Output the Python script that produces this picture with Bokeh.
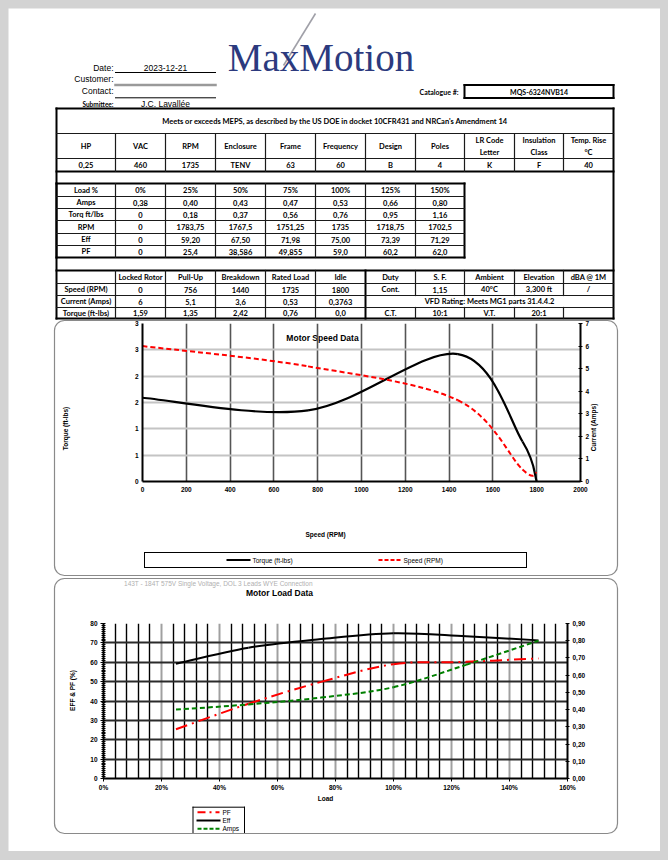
import math
from bokeh.plotting import figure
from bokeh.models import Range1d, LinearAxis, FixedTicker
from bokeh.embed import file_html
from bokeh.resources import INLINE
from bokeh.core.properties import value

# ---------------------------------------------------------------- data
date_value = "2023-12-21"
submittee = "J.C. Lavallée"
catalogue = "MQS-6324NVB14"
meps_note = "Meets or exceeds MEPS, as described by the US DOE in docket 10CFR431 and NRCan's Amendment 14"

spec_headers = [["HP"], ["VAC"], ["RPM"], ["Enclosure"], ["Frame"], ["Frequency"], ["Design"],
                ["Poles"], ["LR Code", "Letter"], ["Insulation", "Class"], ["Temp. Rise", "°C"]]
spec_values = ["0,25", "460", "1735", "TENV", "63", "60", "B", "4", "K", "F", "40"]

load_header = ["Load %", "0%", "25%", "50%", "75%", "100%", "125%", "150%"]
load_rows = [
    ["Amps", "0,38", "0,40", "0,43", "0,47", "0,53", "0,66", "0,80"],
    ["Torq ft/lbs", "0", "0,18", "0,37", "0,56", "0,76", "0,95", "1,16"],
    ["RPM", "0", "1783,75", "1767,5", "1751,25", "1735", "1718,75", "1702,5"],
    ["Eff", "0", "59,20", "67,50", "71,98", "75,00", "73,39", "71,29"],
    ["PF", "0", "25,4", "38,586", "49,855", "59,0", "60,2", "62,0"],
]
perf_header = ["", "Locked Rotor", "Pull-Up", "Breakdown", "Rated Load", "Idle"]
perf_rows = [
    ["Speed (RPM)", "0", "756", "1440", "1735", "1800"],
    ["Current (Amps)", "6", "5,1", "3,6", "0,53", "0,3763"],
    ["Torque (ft-lbs)", "1,59", "1,35", "2,42", "0,76", "0,0"],
]
site_header = ["Duty", "S. F.", "Ambient", "Elevation", "dBA @ 1M"]
site_row1 = ["Cont.", "1,15", "40°C", "3,300 ft", "/"]
vfd_note = "VFD Rating: Meets MG1 parts 31.4.4.2"
site_row3 = ["C.T.", "10:1", "V.T.", "20:1", ""]

# Motor speed data chart
speed_rpm = [0, 756, 1440, 1735, 1800]
torque_ftlb = [1.59, 1.35, 2.42, 0.76, 0.0]
current_amps = [6.0, 5.1, 3.6, 0.53, 0.3763]
speed_ticks = [0, 200, 400, 600, 800, 1000, 1200, 1400, 1600, 1800, 2000]
torque_ticks = [0, 0.5, 1, 1.5, 2, 2.5, 3]
torque_tick_labels = ["0", "1", "1", "2", "2", "3", "3"]
current_ticks = [0, 1, 2, 3, 4, 5, 6, 7]
speed_legend = ["Torque (ft-lbs)", "Speed (RPM)"]

# Motor load data chart
load_frac = [0.25, 0.50, 0.75, 1.00, 1.25, 1.50]
eff_pct = [59.20, 67.50, 71.98, 75.00, 73.39, 71.29]
pf_pct = [25.4, 38.586, 49.855, 59.0, 60.2, 62.0]
amps_load = [0.40, 0.43, 0.47, 0.53, 0.66, 0.80]
load_ticks = [0, 0.2, 0.4, 0.6, 0.8, 1.0, 1.2, 1.4, 1.6]
load_tick_labels = ["0%", "20%", "40%", "60%", "80%", "100%", "120%", "140%", "160%"]
pct_ticks = [0, 10, 20, 30, 40, 50, 60, 70, 80]
amps_ticks = [0, 0.1, 0.2, 0.3, 0.4, 0.5, 0.6, 0.7, 0.8, 0.9]
amps_tick_labels = ["0,00", "0,10", "0,20", "0,30", "0,40", "0,50", "0,60", "0,70", "0,80", "0,90"]
load_legend = ["PF", "Eff", "Amps"]

TICK_FONT = "Liberation Sans"

# ---------------------------------------------------------------- page sheet (page pixel coords)
page = figure(width=652, height=843, x_range=Range1d(8, 660), y_range=Range1d(851, 8),
              x_axis_type=None, y_axis_type=None, toolbar_location=None,
              output_backend="svg", min_border=0, title=None)
page.outline_line_color = None
page.background_fill_color = "white"
page.border_fill_color = "white"
page.styles = {"position": "absolute", "left": "8px", "top": "8px"}

groups = {}


def put(x, y, s, font="Lato", size="7.5px", style="bold", align="center",
        color="black", baseline="middle", angle=0.0):
    key = (font, size, style, align, color, baseline, angle)
    g = groups.setdefault(key, {"x": [], "y": [], "t": []})
    g["x"].append(x)
    g["y"].append(y)
    g["t"].append(s)


segs = {}


def seg(x0, y0, x1, y1, w=1.0, c="#1a1a1a", dash="solid"):
    g = segs.setdefault((w, c, dash), {"x0": [], "y0": [], "x1": [], "y1": []})
    g["x0"].append(x0)
    g["y0"].append(y0)
    g["x1"].append(x1)
    g["y1"].append(y1)


def box(l, t, r, b, w=2.0, c="black"):
    seg(l, t, r, t, w, c)
    seg(l, b, r, b, w, c)
    seg(l, t, l, b, w, c)
    seg(r, t, r, b, w, c)


# logo
page.segment(x0=[315], y0=[13], x1=[283], y1=[65], line_color="#a0a0a8", line_width=1.6)
put(320.5, 56.5, "MaxMotion", font="Liberation Serif", size="39px", style="normal",
    color="#2c3a7e", baseline="alphabetic")

# customer fields
lab = dict(font="Liberation Sans", size="8.5px", style="normal")
put(113, 67.5, "Date:", align="right", **lab)
put(165, 67.5, date_value, **lab)
seg(115, 72, 215, 72, 1, "black")
put(113, 78.7, "Customer:", align="right", **lab)
seg(115, 84.5, 215, 84.5, 2.5, "#9a9a9a")
put(113, 90.7, "Contact:", align="right", **lab)
seg(115, 97.3, 215, 97.3, 1, "black")
put(113, 104, "Submittee:", align="right", font="Lato", size="6.5px", style="bold")
put(165, 103.5, submittee, **lab)
put(458, 91, "Catalogue #:", align="right", size="7px")
box(464, 84.5, 613, 97.5, 2)
put(538.5, 91, catalogue, size="7px")

# big outer block
box(56, 108, 613, 318, 2)
cols = [56, 115, 165, 215, 265, 315, 365, 415, 464, 514, 563, 613]
mids = [(cols[i] + cols[i + 1]) / 2 for i in range(len(cols) - 1)]

put(334.5, 121, meps_note)
seg(56, 133, 613, 133, 1.2)
seg(56, 158, 613, 158, 1.2)
seg(56, 171, 613, 171, 2, "black")
for x in cols[1:-1]:
    seg(x, 133, x, 171, 1.2)
for i, h in enumerate(spec_headers):
    if len(h) == 1:
        put(mids[i], 145.5, h[0])
    else:
        put(mids[i], 140, h[0])
        put(mids[i], 151.5, h[1])
for i, v in enumerate(spec_values):
    put(mids[i], 164.5, v)

# load table
rows_y = [183, 196, 208, 220, 233, 245, 257]
box(56, 183, 464, 257, 2)
for y in rows_y[1:-1]:
    seg(56, y, 464, y, 1.2)
for x in cols[1:8]:
    seg(x, 183, x, 257, 1.2)
for j, row in enumerate([load_header] + load_rows):
    yc = (rows_y[j] + rows_y[j + 1]) / 2
    for i, s in enumerate(row):
        put(mids[i], yc, s)

# performance / site table
rows2 = [270, 283, 295, 307, 318]
seg(56, 270, 613, 270, 2, "black")
for y in rows2[1:-1]:
    seg(56, y, 613, y, 1.2)
for x in cols[1:6]:
    seg(x, 270, x, 318, 1.2)
seg(365, 270, 365, 318, 2, "black")
for x in cols[7:-1]:
    seg(x, 270, x, 295, 1.2)
    seg(x, 307, x, 318, 1.2)
for j, row in enumerate([perf_header] + perf_rows):
    yc = (rows2[j] + rows2[j + 1]) / 2
    for i, s in enumerate(row):
        if s:
            put(mids[i], yc, s)
for j, row in ((0, site_header), (1, site_row1), (3, site_row3)):
    yc = (rows2[j] + rows2[j + 1]) / 2
    for i, s in enumerate(row):
        if s:
            put(mids[6 + i], yc, s)
put(489, (rows2[2] + rows2[3]) / 2, vfd_note)

# chart 1 frame texts and legend
ax_lab = dict(font=TICK_FONT, size="6.5px", style="bold")
put(322, 337, "Motor Speed Data", font=TICK_FONT, size="8.5px", style="bold")
put(65, 428, "Torque (ft-lbs)", angle=math.pi / 2, **ax_lab)
put(593, 427, "Current (Amps)", angle=math.pi / 2, **ax_lab)
put(325, 534, "Speed (RPM)", **ax_lab)
box(144, 552, 526, 567, 1, "black")
seg(227, 559.5, 249, 559.5, 2, "black")
seg(378, 559.5, 401, 559.5, 2, "#ff0000", "4 2")
leg = dict(font=TICK_FONT, size="6.5px", style="normal", align="left")
put(252, 559.5, speed_legend[0], **leg)
put(403, 559.5, speed_legend[1], **leg)

# chart 2 texts and legend
put(218, 582.5, "143T - 184T 575V Single Voltage, DOL 3 Leads WYE Connection",
    font=TICK_FONT, size="6.5px", style="normal", color="#b0b0b0")
put(279, 592, "Motor Load Data", font=TICK_FONT, size="8.5px", style="bold")
put(72, 690, "EFF & PF (%)", angle=math.pi / 2, **ax_lab)
put(325, 797.5, "Load", **ax_lab)
box(192.5, 806.7, 244, 833, 1, "black")
seg(197, 811.7, 219, 811.7, 2, "#ff0000", "8 4 2 4")
seg(197, 820, 219, 820, 2, "black")
seg(197, 828.3, 219, 828.3, 2, "#008000", "4 2")
put(222, 811.7, load_legend[0], **leg)
put(222, 820, load_legend[1], **leg)
put(222, 828.3, load_legend[2], **leg)

for (w, c, dash), g in segs.items():
    page.segment(x0=g["x0"], y0=g["y0"], x1=g["x1"], y1=g["y1"], line_color=c,
                 line_width=w, line_cap="square" if dash == "solid" else "butt",
                 line_dash=dash)
for (font, size, style, align, color, baseline, angle), g in groups.items():
    page.text(x=g["x"], y=g["y"], text=g["t"], text_font=value(font),
              text_font_size=value(size), text_font_style=style, text_align=align,
              text_baseline=baseline, text_color=color, angle=angle)

# hide the top of the faded subtitle behind the box edge, then the rounded boxes
page.quad(left=[60], right=[610], top=[575.6], bottom=[578.3], fill_color="white",
          line_color=None)
page.quad(left=[54, 54], right=[617, 617], top=[320, 578], bottom=[575, 833],
          border_radius=10, fill_color=None, line_color="#8a8a8a", line_width=1.2)


# ---------------------------------------------------------------- helpers
def smooth(xs, ys):
    """Bezier control points through the data points (Excel-like smoothing)."""
    n = len(xs)
    d = {k: [] for k in ("x0", "y0", "x1", "y1", "cx0", "cy0", "cx1", "cy1")}
    for i in range(n - 1):
        ia, ib, ic, idd = max(i - 1, 0), i, i + 1, min(i + 2, n - 1)
        d["x0"].append(xs[ib]); d["y0"].append(ys[ib])
        d["x1"].append(xs[ic]); d["y1"].append(ys[ic])
        d["cx0"].append(xs[ib] + (xs[ic] - xs[ia]) / 6)
        d["cy0"].append(ys[ib] + (ys[ic] - ys[ia]) / 6)
        d["cx1"].append(xs[ic] - (xs[idd] - xs[ib]) / 6)
        d["cy1"].append(ys[ic] - (ys[idd] - ys[ib]) / 6)
    return d


def style_axis(ax, size="6.5px"):
    ax.major_label_text_font = TICK_FONT
    ax.major_label_text_font_size = size
    ax.major_label_text_font_style = "bold"
    ax.major_label_text_color = "black"
    ax.axis_line_color = "black"
    ax.axis_line_width = 2
    ax.major_tick_line_color = "black"
    ax.minor_tick_line_color = "black"


# ---------------------------------------------------------------- chart 1 (frame 142..580 x 323..481)
p1 = figure(width=508, height=184, x_range=Range1d(0, 2000), y_range=Range1d(0, 3),
            toolbar_location=None, output_backend="svg", title=None,
            min_border_left=40, min_border_right=30, min_border_top=6, min_border_bottom=20)
p1.styles = {"position": "absolute", "left": "102px", "top": "317px"}
p1.border_fill_color = None
p1.background_fill_color = None
p1.outline_line_color = None
p1.extra_y_ranges = {"cur": Range1d(0, 7)}

p1.xaxis.ticker = FixedTicker(ticks=speed_ticks)
p1.yaxis.ticker = FixedTicker(ticks=torque_ticks)
p1.yaxis.major_label_overrides = {t: s for t, s in zip(torque_ticks, torque_tick_labels)}
for ax in (p1.xaxis[0], p1.yaxis[0]):
    style_axis(ax)
    ax.major_tick_out = 0
    ax.major_tick_in = 0
    ax.minor_tick_out = 0
    ax.minor_tick_in = 0
p1.xaxis.major_label_standoff = 5
p1.yaxis.major_label_standoff = 4
rax = LinearAxis(y_range_name="cur", ticker=FixedTicker(ticks=current_ticks))
style_axis(rax)
rax.major_tick_in = 2
rax.major_tick_out = 2
rax.minor_tick_in = 0
rax.minor_tick_out = 0
rax.major_label_standoff = 3
p1.add_layout(rax, "right")

p1.xgrid.grid_line_color = "#555555"
p1.xgrid.grid_line_width = 1.6
p1.ygrid.grid_line_color = "#c4c4c4"
p1.ygrid.grid_line_width = 2

p1.bezier(**smooth(speed_rpm, torque_ftlb), line_color="black", line_width=2.2)
p1.bezier(**smooth(speed_rpm, current_amps), line_color="#ff0000", line_width=2,
          line_dash="5 3", y_range_name="cur")

# ---------------------------------------------------------------- chart 2 (frame 103..567 x 623..778)
p2 = figure(width=529, height=181, x_range=Range1d(0, 1.6), y_range=Range1d(0, 80),
            toolbar_location=None, output_backend="svg", title=None,
            min_border_left=30, min_border_right=35, min_border_top=6, min_border_bottom=20)
p2.styles = {"position": "absolute", "left": "73px", "top": "617px"}
p2.border_fill_color = None
p2.background_fill_color = None
p2.outline_line_color = None
p2.extra_y_ranges = {"amps": Range1d(0, 0.9)}

minor_load = [i * 0.04 for i in range(41) if i % 5 != 0]
p2.xaxis.ticker = FixedTicker(ticks=load_ticks, minor_ticks=minor_load)
p2.xaxis.major_label_overrides = {t: s for t, s in zip(load_ticks, load_tick_labels)}
p2.yaxis.ticker = FixedTicker(ticks=pct_ticks, minor_ticks=list(range(0, 81)))
for ax in (p2.xaxis[0], p2.yaxis[0]):
    style_axis(ax)
    ax.major_tick_out = 3
    ax.major_tick_in = 0
p2.xaxis.minor_tick_out = 0
p2.xaxis.minor_tick_in = 0
p2.yaxis.minor_tick_out = 2
p2.yaxis.minor_tick_in = 2
p2.xaxis.major_label_standoff = 2
p2.yaxis.major_label_standoff = 3
rax2 = LinearAxis(y_range_name="amps", ticker=FixedTicker(ticks=amps_ticks))
rax2.major_label_overrides = {t: s for t, s in zip(amps_ticks, amps_tick_labels)}
style_axis(rax2)
rax2.major_tick_in = 2
rax2.major_tick_out = 2
rax2.minor_tick_in = 0
rax2.minor_tick_out = 0
rax2.major_label_standoff = 3
p2.add_layout(rax2, "right")

p2.xgrid.grid_line_color = "#a0a0a0"
p2.xgrid.grid_line_width = 2
p2.xgrid.minor_grid_line_color = "black"
p2.xgrid.minor_grid_line_width = 1.4
p2.ygrid.grid_line_color = "#2a2a2a"
p2.ygrid.grid_line_width = 2

p2.bezier(**smooth(load_frac, eff_pct), line_color="black", line_width=2)
p2.bezier(**smooth(load_frac, pf_pct), line_color="#ff0000", line_width=2,
          line_dash="12 5 2 5")
p2.bezier(**smooth(load_frac, amps_load), line_color="#008000", line_width=2,
          line_dash="5 3", y_range_name="amps")

# ---------------------------------------------------------------- output
html = file_html([page, p1, p2], INLINE)
html = html.replace("</head>",
                    "<style>html, body { background-color: #d3d3d3 !important; }</style></head>", 1)
open("out.html", "w").write(html)
